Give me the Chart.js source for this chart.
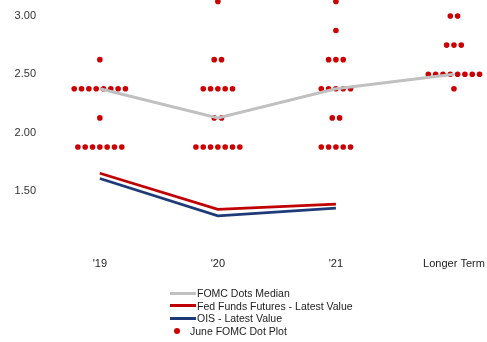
<!DOCTYPE html>
<html>
<head>
<meta charset="utf-8">
<script src="https://cdn.jsdelivr.net/npm/chart.js@4"></script>
<style>
    body { margin: 0; background: #fff; font-family: 'Liberation Sans', Arial, sans-serif; }
    #wrap { position: relative; width: 487px; height: 342px; }
    #legend { position: absolute; left: 170px; top: 287px; font-size: 10.5px; color: #222; }
    .item { height: 12.6px; line-height: 12.6px; display: flex; align-items: center; white-space: nowrap; }
    .swatch { width: 26px; height: 3px; margin-right: 1px; }
    .dot { width: 6px; height: 6px; border-radius: 50%; background: #cc0000; margin: 0 10px 0 4px; }
</style>
</head>
<body>
<div id="wrap">
    <canvas id="chart" width="487" height="342"></canvas>
    <div id="legend"></div>
</div>
<script>
// Data
const categories = ["'19", "'20", "'21", 'Longer Term'];
const medianValues = [2.375, 2.125, 2.375, 2.5];
const futuresValues = [1.65, 1.34, 1.385];
const oisValues = [1.605, 1.285, 1.35];
const yTicks = [1.5, 2.0, 2.5, 3.0];

// dot plot: [rate level, number of participants] per category
const dots19 = [[2.625, 1], [2.375, 8], [2.125, 1], [1.875, 7]];
const dots20 = [[3.125, 1], [2.625, 2], [2.375, 5], [2.125, 2], [1.875, 7]];
const dots21 = [[3.125, 1], [2.875, 1], [2.625, 3], [2.375, 5], [2.125, 2], [1.875, 5]];
const dotsLonger = [[3.0, 2], [2.75, 3], [2.5, 8], [2.375, 1]];

const colors = {
    median: '#c0c0c0',
    futures: '#c00000',
    ois: '#1f3a78',
    dots: '#cc0000'
};

// spread dots side by side around each category
const dotGap = 0.062;
const dotPoints = [];
[dots19, dots20, dots21, dotsLonger].forEach(function(levels, i) {
    levels.forEach(function(lv) {
        for (let j = 0; j < lv[1]; j++) {
            dotPoints.push({ x: i + (j - (lv[1] - 1) / 2) * dotGap, y: lv[0] });
        }
    });
});

const toXY = arr => arr.map((v, i) => ({ x: i, y: v }));

const ctx = document.getElementById('chart').getContext('2d');
const chart = new Chart(ctx, {
    type: 'scatter',
    data: {
        datasets: [{
            label: 'FOMC Dots Median',
            type: 'line',
            data: toXY(medianValues),
            borderColor: colors.median,
            borderWidth: 3,
            pointRadius: 0,
            order: 1
        }, {
            label: 'Fed Funds Futures - Latest Value',
            type: 'line',
            data: toXY(futuresValues),
            borderColor: colors.futures,
            borderWidth: 2.8,
            pointRadius: 0,
            order: 1
        }, {
            label: 'OIS - Latest Value',
            type: 'line',
            data: toXY(oisValues),
            borderColor: colors.ois,
            borderWidth: 2.8,
            pointRadius: 0,
            order: 1
        }, {
            label: 'June FOMC Dot Plot',
            data: dotPoints,
            backgroundColor: colors.dots,
            borderWidth: 0,
            pointRadius: 2.8,
            clip: false,
            order: 5
        }]
    },
    options: {
        responsive: false,
        animation: false,
        layout: { autoPadding: false, padding: { top: 0, right: 0, bottom: 72, left: 0 } },
        plugins: {
            legend: { display: false },
            tooltip: { enabled: false }
        },
        scales: {
            x: {
                type: 'linear',
                min: -0.49,
                max: 3.28,
                grid: { display: false, drawTicks: false },
                border: { display: false },
                afterBuildTicks: function(axis) {
                    axis.ticks = categories.map((c, i) => ({ value: i }));
                },
                afterFit: function(axis) {
                    axis.height = 21;
                    axis.paddingLeft = 0;
                    axis.paddingRight = 0;
                },
                ticks: {
                    padding: 8,
                    color: '#222',
                    font: { family: 'Liberation Sans', size: 11 },
                    maxRotation: 0,
                    callback: function(value) {
                        return categories[value];
                    }
                }
            },
            y: {
                min: 1.0,
                max: 3.137,
                grid: { display: false, drawTicks: false },
                border: { display: false },
                afterBuildTicks: function(axis) {
                    axis.ticks = yTicks.map(v => ({ value: v }));
                },
                afterFit: function(axis) {
                    axis.width = 42;
                    axis.paddingTop = 0;
                    axis.paddingBottom = 0;
                },
                ticks: {
                    padding: 6,
                    color: '#333',
                    font: { family: 'Liberation Sans', size: 11 },
                    callback: function(value) {
                        return value.toFixed(2);
                    }
                }
            }
        }
    }
});

// stacked legend below the chart
const legend = document.getElementById('legend');
chart.data.datasets.forEach(function(ds) {
    const row = document.createElement('div');
    row.className = 'item';
    const mark = document.createElement('span');
    if (ds.type === 'line') {
        mark.className = 'swatch';
        mark.style.background = ds.borderColor;
    } else {
        mark.className = 'dot';
    }
    row.appendChild(mark);
    const txt = document.createElement('span');
    txt.textContent = ds.label;
    row.appendChild(txt);
    legend.appendChild(row);
});
</script>
</body>
</html>
